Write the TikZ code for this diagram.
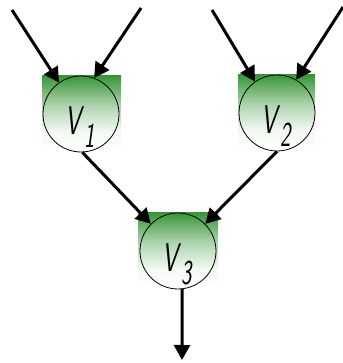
\documentclass[tikz,border=0pt]{standalone}
\usepackage{fontspec}
\usetikzlibrary{arrows.meta,calc}
\definecolor{vgreen}{RGB}{56,150,56}
\pgfdeclareverticalshading{vfade}{100bp}{color(0bp)=(white); color(25bp)=(white); color(38bp)=(white!94!vgreen); color(55bp)=(white!60!vgreen); color(75bp)=(vgreen); color(100bp)=(vgreen)}
\tikzset{
  vnode/.style={circle, draw=black, line width=0.8pt, minimum size=76pt, inner sep=0pt},
  vbox/.style={shading=vfade},
  vtext/.style={anchor=base west, inner sep=0pt, font=\sffamily\slshape\fontsize{40}{40}\selectfont},
  flow/.style={line width=3pt, -{Triangle[length=15pt,width=16pt]}},
}
\newcommand{\vlab}[1]{\scalebox{0.63}[1]{V\kern6pt\raisebox{-13pt}{\fontsize{35}{35}\selectfont #1}}}
\begin{document}
\begin{tikzpicture}[x=1pt,y=1pt]
\useasboundingbox (0,0) rectangle (342,363);
% shaded boxes
\shade[vbox] (42,212) rectangle (121,287);
\shade[vbox] (238,213) rectangle (315,288);
\shade[vbox] (138,75) rectangle (218,150);
% circles
\node[vnode] (v1) at (81,249) {};
\node[vnode] (v2) at (277,250) {};
\node[vnode] (v3) at (178,112) {};
% labels
\node[vtext] (t1) at ($(v1.center)+(-16,-21)$) {\vlab{1}};
\node[vtext] (t2) at ($(v2.center)+(-16,-21)$) {\vlab{2}};
\node[vtext] (t3) at ($(v3.center)+(-16,-21)$) {\vlab{3}};
% inputs
\coordinate (a1) at (12,353);
\coordinate (a2) at (141,355);
\coordinate (a3) at (212,353);
\coordinate (a4) at (343,356);
\coordinate (out) at (182,3);
\draw[flow] (a1) -- (v1.125);
\draw[flow] (a2) -- (v1.70);
\draw[flow] (a3) -- (v2.125);
\draw[flow] (a4) -- (v2.60);
\draw[flow] (v1.272) -- (v3.135);
\draw[flow] (v2.270) -- (v3.45);
\draw[flow] (v3.276) -- (out);
\end{tikzpicture}
\end{document}
